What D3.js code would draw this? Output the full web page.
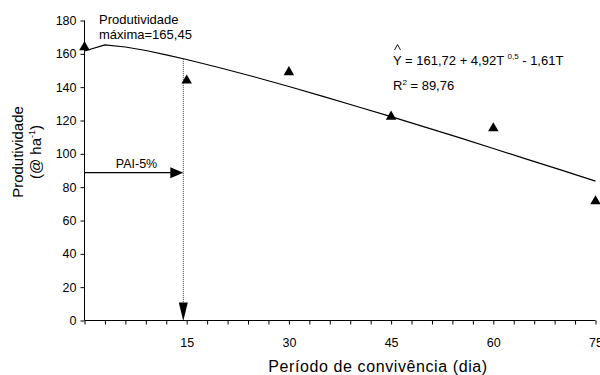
<!DOCTYPE html>
<html>
<head>
<meta charset="utf-8">
<script src="https://cdn.jsdelivr.net/npm/d3@7"></script>
<style>
  body { margin: 0; background: #fff; }
  text { font-family: "Liberation Sans", Arial, sans-serif; fill: #000; }
</style>
</head>
<body>
<div id="chart"></div>
<script>
// observed productivity (triangles)
const days = [0, 15, 30, 45, 60, 75];
const observed = [164, 144, 149, 122.3, 115.3, 71.5];

// fitted curve
const curveDays = [0, 3, 6, 9, 12, 15, 20, 25, 30, 35, 40, 45, 50, 55, 60, 65, 70, 75];
const curveVals = [161.7, 165.4, 164.1, 162.0, 159.4, 156.6, 151.5, 146.1, 140.4, 134.5, 128.4, 122.3, 116.0, 109.7, 103.2, 96.7, 90.2, 83.6];

const xTickLabels = [15, 30, 45, 60, 75];
const yTicks = [0, 20, 40, 60, 80, 100, 120, 140, 160, 180];

// PAI-5% arrows
const paiDay = 14.5;
const paiValue = 88.7;

const width = 600, height = 375;

const svg = d3.select("#chart")
  .append("svg")
  .attr("width", width)
  .attr("height", height);

const x = d3.scaleLinear().domain([0, 75]).range([84.5, 595.5]);
const y = d3.scaleLinear().domain([0, 180]).range([320.5, 20.5]);

// y axis
const yAxis = svg.append("g")
  .attr("transform", "translate(" + x(0) + ",0)")
  .call(d3.axisLeft(y).tickValues(yTicks).tickSize(4).tickPadding(4));
yAxis.select(".domain").attr("stroke", "#000").attr("d", "M0," + y(180) + "V" + y(0));
yAxis.selectAll("text").style("font-size", "12.5px").attr("font-family", null);

// x axis, minor ticks every 3 days
const xAxis = svg.append("g")
  .attr("transform", "translate(0," + y(0) + ")")
  .call(d3.axisBottom(x).tickValues(d3.range(0, 76, 3)).tickSize(4).tickPadding(14)
    .tickFormat(d => xTickLabels.includes(d) ? d : ""));
xAxis.select(".domain").attr("d", "M" + x(0) + ",0H" + x(75));
xAxis.selectAll("text").style("font-size", "12.5px").attr("font-family", null);

// fitted curve
const line = d3.line()
  .x((d, i) => x(curveDays[i]))
  .y(d => y(d));

svg.append("path")
  .datum(curveVals)
  .attr("fill", "none")
  .attr("stroke", "#000")
  .attr("stroke-width", 1.2)
  .attr("d", line);

// dotted vertical line down from curve
svg.append("line")
  .attr("x1", x(paiDay)).attr("x2", x(paiDay))
  .attr("y1", y(156.8)).attr("y2", y(0) - 16)
  .attr("stroke", "#333")
  .attr("stroke-width", 1)
  .attr("stroke-dasharray", "1,1");

// downward arrow head
svg.append("path")
  .attr("d", "M" + (x(paiDay) - 4.5) + "," + (y(0) - 18) + "L" + (x(paiDay) + 4.5) + "," + (y(0) - 18) + "L" + x(paiDay) + "," + (y(0) + 0.5) + "Z")
  .attr("fill", "#000");

// horizontal arrow PAI-5%
svg.append("line")
  .attr("x1", x(0)).attr("x2", x(paiDay) - 12)
  .attr("y1", y(paiValue)).attr("y2", y(paiValue))
  .attr("stroke", "#000")
  .attr("stroke-width", 1.2);
svg.append("path")
  .attr("d", "M" + (x(paiDay) - 13) + "," + (y(paiValue) - 5.5) + "L" + (x(paiDay) - 13) + "," + (y(paiValue) + 5.5) + "L" + x(paiDay) + "," + y(paiValue) + "Z")
  .attr("fill", "#000");
svg.append("text")
  .attr("x", 136.5).attr("y", 168)
  .attr("text-anchor", "middle")
  .style("font-size", "12.5px")
  .text("PAI-5%");

// observed points
svg.selectAll(".pt")
  .data(observed)
  .enter()
  .append("path")
  .attr("class", "pt")
  .attr("d", d3.symbol(d3.symbolTriangle, 48))
  .attr("transform", (d, i) => "translate(" + x(days[i]) + "," + y(d) + ")")
  .attr("fill", "#000");

// annotation of maximum
svg.append("text").attr("x", 99).attr("y", 24).style("font-size", "13px").text("Produtividade");
svg.append("text").attr("x", 99).attr("y", 39).style("font-size", "13px").text("máxima=165,45");

// equation
const eq = svg.append("text").attr("x", 393).attr("y", 65).style("font-size", "13px");
eq.append("tspan").text("Y = 161,72 + 4,92T ");
eq.append("tspan").attr("dy", -6).style("font-size", "8px").text("0,5");
eq.append("tspan").attr("dy", 6).text(" - 1,61T");
// hat over the Y
svg.append("path")
  .attr("d", "M394.5,50L397.5,44.5L400.5,50")
  .attr("fill", "none")
  .attr("stroke", "#000")
  .attr("stroke-width", 0.9);

const r2 = svg.append("text").attr("x", 393).attr("y", 90).style("font-size", "13px");
r2.append("tspan").text("R");
r2.append("tspan").attr("dy", -5).style("font-size", "8px").text("2");
r2.append("tspan").attr("dy", 5).text(" = 89,76");

// axis titles
svg.append("text")
  .attr("x", 378).attr("y", 372)
  .attr("text-anchor", "middle")
  .style("font-size", "16px")
  .style("letter-spacing", "0.6px")
  .text("Período de convivência (dia)");

const yt = svg.append("g").attr("transform", "translate(23,152) rotate(-90)");
yt.append("text").attr("text-anchor", "middle").style("font-size", "15px").text("Produtividade");
const yt2 = yt.append("text").attr("y", 18).attr("text-anchor", "middle").style("font-size", "15px");
yt2.append("tspan").text("(@ ha");
yt2.append("tspan").attr("dy", -6).style("font-size", "9px").text("-1");
yt2.append("tspan").attr("dy", 6).text(")");
</script>
</body>
</html>
